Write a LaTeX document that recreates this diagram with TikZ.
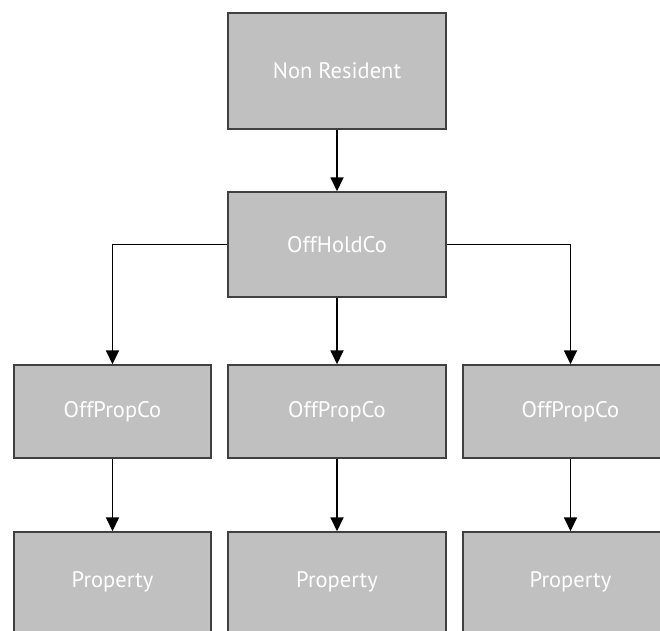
\documentclass[tikz,border=0pt]{standalone}
\usepackage{fontspec}
\setmainfont{PT Sans}
\usetikzlibrary{arrows.meta}
\definecolor{boxfill}{RGB}{192,192,192}
\definecolor{boxline}{RGB}{64,64,64}
\tikzset{
  box/.style={draw=boxline, fill=boxfill, line width=1.5pt, inner sep=0pt,
    text=white, font=\fontsize{22.5}{26}\selectfont, anchor=center},
  arr/.style={draw=black, line width=1.8pt, -{Triangle[length=14pt,width=13pt]}}
}
\begin{document}
\begin{tikzpicture}[x=1pt,y=-1pt]
\useasboundingbox (0,0) rectangle (660,630);
\node[box, minimum width=218pt, minimum height=116pt] (nr) at (337,71) {Non Resident};
\node[box, minimum width=218pt, minimum height=105pt] (oh) at (337,244.5) {OffHoldCo};
\node[box, minimum width=197pt, minimum height=93pt] (p1) at (112.5,411.5) {OffPropCo};
\node[box, minimum width=218pt, minimum height=93pt] (p2) at (337,411.5) {OffPropCo};
\node[box, minimum width=215pt, minimum height=93pt] (p3) at (570.5,411.5) {OffPropCo};
\node[box, minimum width=197pt, minimum height=100pt] (q1) at (112.5,582) {Property};
\node[box, minimum width=218pt, minimum height=100pt] (q2) at (337,582) {Property};
\node[box, minimum width=215pt, minimum height=100pt] (q3) at (570.5,582) {Property};
\draw[arr] (nr.south) -- (oh.north);
\draw[arr] (oh.south) -- (p2.north);
\draw[arr] (oh.west) -| (p1.north);
\draw[arr] (oh.east) -| (p3.north);
\draw[arr] (p1.south) -- (q1.north);
\draw[arr] (p2.south) -- (q2.north);
\draw[arr] (p3.south) -- (q3.north);
\end{tikzpicture}
\end{document}
